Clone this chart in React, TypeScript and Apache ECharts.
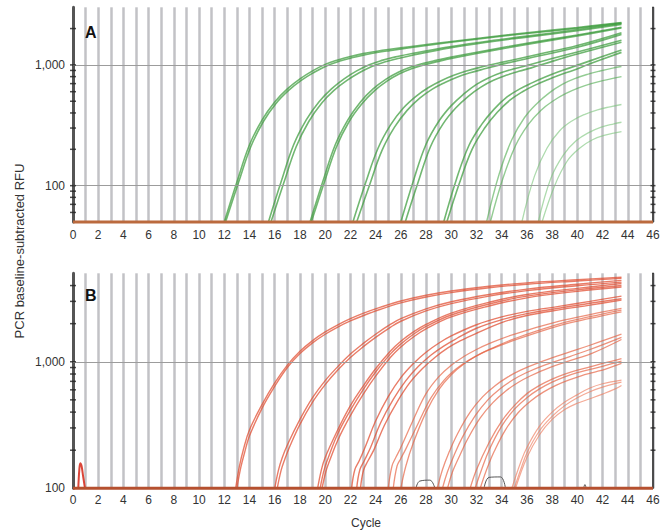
import React, { useEffect, useRef } from "react";
import * as echarts from "echarts";

type P = [number, number][];

// ---------- axis settings / tick values ----------
const cycleMin = 0;
const cycleMax = 46;
const topMin = 50;
const topMax = 3000;
const botMin = 100;
const botMax = 5000;
const topMinorTicks = [60, 70, 80, 90, 100, 200, 300, 400, 500, 600, 700, 800, 900, 1000, 2000];
const botMinorTicks = [200, 300, 400, 500, 600, 700, 800, 900, 1000, 2000, 3000, 4000];
const topGridValues = [100, 1000];
const botGridValues = [1000];

// ---------- panel A (green) amplification curves ----------
const g1a: P = [[12.0,50],[13,107],[14,218],[15,351],[16,494],[17,633],[18,766],[19,892],[20,1010],[21,1100],[22,1176],[23,1240],[24,1293],[25,1341],[27,1428],[30,1564],[33,1704],[36,1849],[40,2041],[43.5,2246]];
const g1b: P = [[12.1,50],[13.1,104],[14.1,210],[15.1,340],[16.1,480],[17.1,615],[18.1,745],[19.1,865],[20.1,980],[21.1,1070],[22.1,1145],[23.1,1210],[24.1,1265],[25.1,1312],[27,1400],[30,1540],[33,1680],[36,1820],[40,2010],[43.5,2220]];
const g2a: P = [[15.5,50],[16.5,107],[17.5,218],[18.5,351],[19.5,494],[20.5,633],[21.5,766],[22.5,892],[23.5,1005],[24.5,1090],[25.5,1160],[27,1250],[30,1420],[33,1580],[36,1730],[40,1960],[43.5,2200]];
const g2b: P = [[15.7,50],[16.7,104],[17.7,210],[18.7,340],[19.7,480],[20.7,615],[21.7,740],[22.7,860],[23.7,970],[24.7,1055],[25.7,1125],[27,1210],[30,1390],[33,1550],[36,1700],[40,1920],[43.5,2160]];
const g3a: P = [[18.8,50],[19.8,107],[20.8,218],[21.8,351],[22.8,494],[23.8,633],[24.8,760],[25.8,870],[26.8,960],[27.8,1030],[28.8,1090],[30,1160],[33,1330],[36,1510],[40,1770],[43.5,2050]];
const g3b: P = [[18.9,50],[19.9,104],[20.9,210],[21.9,340],[22.9,475],[23.9,610],[24.9,735],[25.9,845],[26.9,935],[27.9,1005],[28.9,1065],[30,1130],[33,1300],[36,1480],[40,1740],[43.5,2020]];
const g4a: P = [[22.2,50],[23.2,105],[24.2,205],[25.2,320],[26.2,440],[27.2,550],[28.2,650],[29.2,740],[30.2,820],[31.2,890],[32.2,950],[34,1050],[37,1230],[40,1450],[43.5,1850]];
const g4b: P = [[22.5,50],[23.5,100],[24.5,195],[25.5,305],[26.5,420],[27.5,530],[28.5,630],[29.5,715],[30.5,795],[31.5,860],[32.5,920],[34,1010],[37,1190],[40,1400],[43.5,1790]];
const g5a: P = [[26.0,50],[27,110],[28,220],[29,340],[30,460],[31,575],[32,690],[33,785],[34,865],[35,930],[36,990],[38,1130],[40,1280],[43.5,1600]];
const g5b: P = [[26.35,50],[27.35,105],[28.35,210],[29.35,325],[30.35,440],[31.35,550],[32.35,655],[33.35,745],[34.35,820],[35.35,885],[36.35,945],[38,1070],[40,1230],[43.5,1540]];
const g6a: P = [[29.4,50],[30.4,112],[31.4,215],[32.4,320],[33.4,430],[34.4,540],[35.4,630],[36.4,710],[37.4,790],[38.4,870],[39.4,945],[41,1080],[43.5,1330]];
const g6b: P = [[29.65,50],[30.65,105],[31.65,200],[32.65,300],[33.65,405],[34.65,510],[35.65,600],[36.65,680],[37.65,755],[38.65,830],[39.65,900],[41,1020],[43.5,1270]];
const g7a: P = [[32.8,50],[33.8,125],[34.8,240],[35.8,365],[36.8,480],[37.8,590],[38.8,690],[39.8,770],[40.8,835],[41.8,890],[42.8,940],[43.5,970]];
const g7b: P = [[33.1,50],[34.1,115],[35.1,215],[36.1,320],[37.1,420],[38.1,505],[39.1,580],[40.1,645],[41.1,700],[42.1,745],[43.5,800]];
const g8a: P = [[35.6,50],[36.6,120],[37.6,205],[38.6,285],[39.6,345],[40.6,390],[41.6,425],[42.6,450],[43.5,470]];
const g9a: P = [[36.9,50],[37.9,115],[38.9,180],[39.9,235],[40.9,275],[41.9,305],[42.9,325],[43.5,335]];
const g9b: P = [[37.2,50],[38.2,100],[39.2,160],[40.2,205],[41.2,240],[42.2,262],[43.5,280]];

const greenCurves: P[] = [g1a, g1b, g2a, g2b, g3a, g3b, g4a, g4b, g5a, g5b, g6a, g6b, g7a, g7b, g8a, g9a, g9b];
const greenTiers = [0, 0, 0, 0, 0, 0, 0, 0, 0, 0, 0, 0, 1, 1, 2, 2, 2];

// ---------- panel B (red) amplification curves ----------
const r1a: P = [[12.9,100],[13.2,150],[13.5,200],[14,290],[15,460],[16,680],[17,940],[18,1210],[19,1470],[20,1720],[21,1960],[22,2190],[23,2410],[24.4,2700],[26,3020],[28,3350],[30,3620],[33,3950],[36,4200],[40,4450],[43.5,4650]];
const r1b: P = [[13.0,100],[13.3,145],[13.6,190],[14,260],[15,430],[16,640],[17,900],[18,1160],[19,1410],[20,1650],[21,1880],[22,2100],[23,2310],[24.4,2600],[26,2920],[28,3250],[30,3520],[33,3840],[36,4100],[40,4350],[43.5,4560]];
const r2a: P = [[16.0,100],[16.3,140],[16.6,175],[17,220],[18,350],[19,520],[20,710],[21,915],[22,1150],[23,1390],[24,1650],[25.2,1980],[26,2190],[28,2620],[30,2980],[33,3400],[36,3750],[40,4100],[43.5,4400]];
const r2b: P = [[16.2,100],[16.5,138],[16.8,170],[17.2,215],[18,320],[19,480],[20,660],[21,860],[22,1080],[23,1310],[24,1560],[25.2,1880],[26,2090],[28,2520],[30,2880],[33,3300],[36,3650],[40,3990],[43.5,4260]];
const r3a: P = [[19.4,100],[19.7,140],[20,175],[21,290],[22,450],[23,640],[24,880],[25.2,1220],[26,1450],[27,1720],[28,1970],[30,2420],[33,2950],[36,3400],[40,3800],[43.5,4150]];
const r3b: P = [[19.6,100],[19.9,138],[20.2,170],[21,270],[22,415],[23,600],[24,830],[25.2,1160],[26,1380],[27,1650],[28,1900],[30,2340],[33,2860],[36,3300],[40,3700],[43.5,4000]];
const r3c: P = [[19.75,100],[20.05,135],[20.35,165],[21,240],[22,375],[23,550],[24,770],[25.2,1090],[26,1310],[27,1570],[28,1820],[30,2260],[33,2760],[36,3200],[40,3600],[43.5,3900]];
const r4a: P = [[22.1,100],[22.35,140],[22.7,165],[23.2,215],[24,340],[25,530],[26,750],[27,970],[28,1190],[29,1400],[30,1600],[32,1960],[34,2260],[36,2500],[38.65,2750],[41,3000],[43.5,3300]];
const r4b: P = [[22.5,100],[22.75,140],[23.1,165],[23.6,210],[24.4,330],[25.4,505],[26.4,710],[27.4,920],[28.4,1130],[29.4,1330],[30.4,1520],[32,1840],[34,2150],[36,2400],[38.65,2660],[41,2900],[43.5,3150]];
const r4c: P = [[22.8,100],[23.05,140],[23.4,165],[23.9,205],[24.7,315],[25.7,480],[26.7,680],[27.7,880],[28.7,1080],[29.7,1280],[30.7,1460],[32,1680],[34,2040],[36,2320],[38.65,2580],[41,2800],[43.5,3070]];
const r5a: P = [[25.0,100],[25.3,150],[25.6,175],[26,210],[27,350],[28,560],[29,760],[30,940],[31,1100],[32,1250],[33,1390],[34.9,1640],[38.65,2100],[41,2360],[43.5,2640]];
const r5b: P = [[25.4,100],[25.7,150],[26.0,172],[26.4,205],[27.4,330],[28.4,520],[29.4,710],[30.4,880],[31.4,1030],[32.4,1170],[33.4,1300],[35,1520],[38.65,2000],[41,2270],[43.5,2560]];
const r5c: P = [[26.0,100],[26.4,150],[27,230],[28,400],[29,600],[30,790],[31,960],[32,1110],[33,1240],[35,1480],[38.65,1940],[41,2200],[43.5,2480]];
const r6a: P = [[28.9,100],[29.3,140],[29.8,190],[30.5,270],[31.5,400],[32.5,530],[33.5,650],[34.5,760],[35.5,860],[37,990],[39,1160],[41,1350],[43.5,1650]];
const r6b: P = [[29.3,100],[29.7,135],[30.2,180],[30.9,255],[31.9,375],[32.9,500],[33.9,615],[34.9,720],[35.9,815],[37.4,940],[39.4,1100],[41,1250],[43.5,1560]];
const r6c: P = [[29.7,100],[30.1,135],[30.6,175],[31.3,245],[32.3,360],[33.3,475],[34.3,585],[35.3,685],[36.3,775],[37.8,900],[39.8,1050],[41.2,1170],[43.5,1500]];
const r7a: P = [[31.5,100],[32,140],[33,230],[34,340],[35,450],[36,560],[37,650],[38,730],[39,800],[40,860],[41,910],[42,970],[43.5,1060]];
const r7b: P = [[31.9,100],[32.4,140],[33,200],[34,310],[35,420],[36,520],[37,610],[38,690],[39,760],[40,820],[41,870],[42,920],[43.5,1010]];
const r7c: P = [[32.3,100],[32.8,140],[33.4,195],[34.3,290],[35.3,395],[36.3,490],[37.3,575],[38.3,650],[39.3,715],[40.3,775],[41.3,825],[42.3,880],[43.5,970]];
const r8a: P = [[34.8,100],[35.5,160],[36,210],[37,310],[38,400],[39,480],[40,550],[41,620],[42,670],[43.5,716]];
const r8b: P = [[35.0,100],[35.5,140],[36,190],[37,285],[38,370],[39,450],[40,520],[41,580],[42,630],[43.5,690]];
const r8c: P = [[35.1,100],[36,175],[37,265],[38,350],[39,420],[40,470],[41,510],[42,555],[43,610],[43.5,650]];

const redCurves: P[] = [r1a, r1b, r2a, r2b, r3a, r3b, r3c, r4a, r4b, r4c, r5a, r5b, r5c, r6a, r6b, r6c, r7a, r7b, r7c, r8a, r8b, r8c];
const redTiers = [0, 0, 0, 0, 0, 0, 0, 0, 0, 0, 1, 1, 1, 1, 1, 1, 1, 1, 1, 2, 2, 2];

// small artefacts in panel B
const redSpike: P = [[0.42,100],[0.5,140],[0.58,158],[0.68,150],[0.8,125],[0.95,100]];
const grayHump1: P = [[27.2,100],[27.5,114],[28.3,116],[28.7,100]];
const grayHump2: P = [[32.6,100],[33.0,122],[33.9,123],[34.3,100]];
const grayDot: P = [[40.5,100],[40.6,107],[40.7,100]];

const FONT = "Liberation Sans, Arial, Helvetica, sans-serif";

const greenStyles = [
  { color: "rgba(58,155,58,0.72)", width: 1.6 },
  { color: "rgba(80,172,80,0.62)", width: 1.4 },
  { color: "rgba(120,195,120,0.6)", width: 1.3 },
];
const redStyles = [
  { color: "rgba(224,74,44,0.72)", width: 1.4 },
  { color: "rgba(230,96,64,0.68)", width: 1.3 },
  { color: "rgba(238,124,94,0.66)", width: 1.2 },
];

function curve(data: P, xi: number, yi: number, style: { color: string; width: number }, z = 2) {
  return {
    type: "line",
    xAxisIndex: xi,
    yAxisIndex: yi,
    data,
    smooth: 0.4,
    symbol: "none",
    showSymbol: false,
    silent: true,
    z,
    lineStyle: { color: style.color, width: style.width },
  };
}

function ticks(values: number[], x: number, xi: number, yi: number, w: number) {
  return {
    type: "scatter",
    xAxisIndex: xi,
    yAxisIndex: yi,
    data: values.map((v) => [x, v]),
    symbol: "rect",
    symbolSize: [w, 1.5],
    itemStyle: { color: "#222" },
    clip: false,
    silent: true,
    z: 6,
  };
}

function baseline(minV: number, xi: number, yi: number, color: string, grid: number[]) {
  return {
    type: "line",
    xAxisIndex: xi,
    yAxisIndex: yi,
    data: [[cycleMin, minV], [cycleMax, minV]],
    symbol: "none",
    clip: false,
    silent: true,
    z: 4,
    lineStyle: { color, width: 3 },
    markLine: {
      silent: true,
      symbol: ["none", "none"],
      label: { show: false },
      lineStyle: { color: "#9c9c9c", width: 1, type: "solid" },
      data: grid.map((g) => ({ yAxis: g })),
    },
  };
}

function xAxisCfg(gridIndex: number, margin: number) {
  return {
    type: "value",
    gridIndex,
    min: cycleMin,
    max: cycleMax,
    interval: 2,
    axisLine: { show: false },
    axisTick: { show: false },
    axisLabel: { margin, color: "#333", fontSize: 12, fontFamily: FONT },
    splitLine: { show: true, lineStyle: { color: "#c2c2c6", width: 2.5 } },
    minorTick: { show: false, splitNumber: 2 },
    minorSplitLine: { show: true, lineStyle: { color: "#c2c2c6", width: 2.5 } },
  };
}

function yLabel(v: number) {
  if (Math.abs(v - 100) < 1e-6) return "100";
  if (Math.abs(v - 1000) < 1e-6) return "1,000";
  return "";
}

function yAxisCfg(gridIndex: number, min: number, max: number, right: boolean) {
  return {
    type: "log",
    logBase: 10,
    gridIndex,
    min,
    max,
    position: right ? "right" : "left",
    axisLine: { show: true, lineStyle: { color: right ? "#222" : "#555", width: right ? 1.5 : 3 } },
    axisTick: { show: false },
    axisLabel: right
      ? { show: false }
      : { show: true, margin: 8, color: "#333", fontSize: 12, fontFamily: FONT, formatter: yLabel, showMinLabel: true, showMaxLabel: false },
    splitLine: { show: false },
  };
}

export default function App() {
  const ref = useRef<HTMLDivElement>(null);
  useEffect(() => {
    if (!ref.current) return;
    const chart = echarts.init(ref.current, null, { renderer: "svg" });
    const series: any[] = [];
    greenCurves.forEach((c, i) => series.push(curve(c, 0, 0, greenStyles[greenTiers[i]])));
    redCurves.forEach((c, i) => series.push(curve(c, 1, 2, redStyles[redTiers[i]])));
    series.push(curve(redSpike, 1, 2, { color: "rgba(215,50,35,0.9)", width: 2 }));
    series.push(curve(grayHump1, 1, 2, { color: "#555", width: 1 }, 3));
    series.push(curve(grayHump2, 1, 2, { color: "#555", width: 1 }, 3));
    series.push(curve(grayDot, 1, 2, { color: "#555", width: 1 }, 3));
    series.push(baseline(topMin, 0, 0, "#bb6a3e", topGridValues));
    series.push(baseline(botMin, 1, 2, "#b5502f", botGridValues));
    series.push(ticks(topMinorTicks, cycleMin, 0, 0, 6));
    series.push(ticks(topMinorTicks, cycleMax, 0, 0, 5));
    series.push(ticks(botMinorTicks, cycleMin, 1, 2, 6));
    series.push(ticks(botMinorTicks, cycleMax, 1, 2, 5));

    chart.setOption({
      animation: false,
      backgroundColor: "#ffffff",
      grid: [
        { left: 73, top: 7.3, width: 580, height: 214.7 },
        { left: 73, top: 273.3, width: 580, height: 215 },
      ],
      xAxis: [xAxisCfg(0, 7), xAxisCfg(1, 6)],
      yAxis: [
        yAxisCfg(0, topMin, topMax, false),
        yAxisCfg(0, topMin, topMax, true),
        yAxisCfg(1, botMin, botMax, false),
        yAxisCfg(1, botMin, botMax, true),
      ],
      series,
      graphic: [
        { type: "text", left: 85, top: 24, z: 10, style: { text: "A", font: `bold 16px ${FONT}`, fill: "#111" } },
        { type: "text", left: 85, top: 287, z: 10, style: { text: "B", font: `bold 16px ${FONT}`, fill: "#111" } },
        {
          type: "text",
          x: 19,
          y: 251,
          rotation: Math.PI / 2,
          z: 10,
          style: { text: "PCR baseline-subtracted RFU", font: `13px ${FONT}`, fill: "#333", align: "center", verticalAlign: "middle" },
        },
        {
          type: "text",
          x: 366,
          y: 523,
          z: 10,
          style: { text: "Cycle", font: `12px ${FONT}`, fill: "#333", align: "center", verticalAlign: "middle" },
        },
      ],
    });
    return () => chart.dispose();
  }, []);
  return <div ref={ref} style={{ position: "absolute", left: 0, top: 0, width: 668, height: 531 }} />;
}
